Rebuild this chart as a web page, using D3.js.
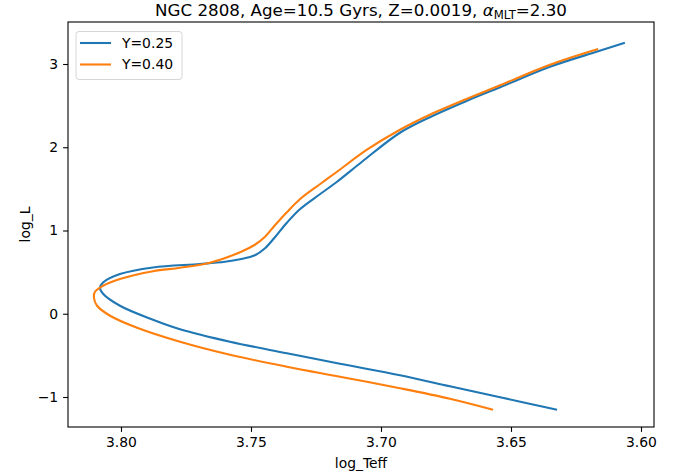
<!DOCTYPE html>
<html>
<head>
<meta charset="utf-8">
<script src="https://cdn.jsdelivr.net/npm/d3@7"></script>
<style>
  html, body { margin: 0; padding: 0; background: #fff; }
  svg { display: block; font-family: "DejaVu Sans", sans-serif; }
</style>
</head>
<body>
<svg id="chart" width="680" height="476"></svg>
<script>
// ---- data ----
const seriesNames = ["Y=0.25", "Y=0.40"];
const seriesColors = ["#1f77b4", "#ff7f0e"];

// Y=0.25 track: log_Teff, log_L (from bottom of MS, through turnoff, up the RGB)
const teff025 = [3.6323, 3.6542, 3.6735, 3.6927, 3.7158, 3.7362, 3.7581, 3.7773, 3.7877, 3.8004,
  3.8069, 3.8081, 3.8069, 3.8004, 3.7877, 3.7696, 3.7600, 3.7542, 3.7485, 3.7446, 3.7408, 3.7362,
  3.7312, 3.7235, 3.7169, 3.7073, 3.6927, 3.6800, 3.6669, 3.6542, 3.6350, 3.6165, 3.6062];
const logL025 = [-1.1532, -1.0030, -0.8709, -0.7387, -0.6006, -0.4745, -0.3363, -0.1862, -0.0721, 0.0961,
  0.2402, 0.3123, 0.3760, 0.4769, 0.5562, 0.5970, 0.6246, 0.6547, 0.7027, 0.7868, 0.9189, 1.0931,
  1.2553, 1.4354, 1.5856, 1.8258, 2.1742, 2.3784, 2.5586, 2.7207, 2.9670, 3.1532, 3.2553];

// Y=0.40 track
const teff040 = [3.6569, 3.6735, 3.6927, 3.7158, 3.7362, 3.7581, 3.7773, 3.7938, 3.8042, 3.8092,
  3.8104, 3.8100, 3.8069, 3.8004, 3.7877, 3.7773, 3.7658, 3.7542, 3.7485, 3.7446, 3.7408, 3.7362,
  3.7312, 3.7235, 3.7169, 3.7054, 3.6927, 3.6800, 3.6669, 3.6542, 3.6350, 3.6165];
const logL040 = [-1.1532, -1.0210, -0.8949, -0.7568, -0.6366, -0.4925, -0.3363, -0.1682, -0.0240, 0.0961,
  0.1922, 0.2643, 0.3363, 0.4168, 0.5105, 0.5526, 0.6126, 0.7387, 0.8288, 0.9249, 1.0631, 1.2192,
  1.3754, 1.5556, 1.7057, 1.9700, 2.2102, 2.4084, 2.5826, 2.7447, 2.9910, 3.1796];

const xTicks = [3.80, 3.75, 3.70, 3.65, 3.60];
const yTicks = [-1, 0, 1, 2, 3];
const xDomain = [3.82038, 3.595];
const yDomain = [-1.3604, 3.5045];

// ---- layout ----
const svg = d3.select("#chart");
const L = 68, R = 654, T = 22, B = 427;

const x = d3.scaleLinear().domain(xDomain).range([L, R]);
const y = d3.scaleLinear().domain(yDomain).range([B, T]);

const series = [
  { name: seriesNames[0], color: seriesColors[0], pts: teff025.map((t, i) => [t, logL025[i]]) },
  { name: seriesNames[1], color: seriesColors[1], pts: teff040.map((t, i) => [t, logL040[i]]) }
];

const line = d3.line().x(d => x(d[0])).y(d => y(d[1])).curve(d3.curveCatmullRom.alpha(0.5));

svg.append("clipPath").attr("id", "clip")
  .append("rect").attr("x", L).attr("y", T).attr("width", R - L).attr("height", B - T);

const plot = svg.append("g").attr("clip-path", "url(#clip)");
series.forEach(s => {
  plot.append("path").datum(s.pts)
    .attr("d", line)
    .attr("fill", "none")
    .attr("stroke", s.color)
    .attr("stroke-width", 2.1)
    .attr("stroke-linejoin", "round")
    .attr("stroke-linecap", "butt");
});

// axes
const xAxis = d3.axisBottom(x).tickValues(xTicks).tickFormat(d3.format(".2f")).tickSizeOuter(0).tickSize(4.9).tickPadding(4.9);
const yAxis = d3.axisLeft(y).tickValues(yTicks).tickFormat(d3.format("d")).tickSizeOuter(0).tickSize(4.9).tickPadding(4.9);

const gx = svg.append("g").attr("transform", `translate(0,${B})`).call(xAxis);
const gy = svg.append("g").attr("transform", `translate(${L},0)`).call(yAxis);
[gx, gy].forEach(g => {
  g.select(".domain").remove();
  g.selectAll(".tick line").attr("stroke", "#000").attr("stroke-width", 1.1);
  g.selectAll(".tick text").attr("fill", "#000").style("font-size", "13.9px").style("font-family", "DejaVu Sans");
});

// frame
svg.append("rect").attr("x", L).attr("y", T).attr("width", R - L).attr("height", B - T)
  .attr("fill", "none").attr("stroke", "#000").attr("stroke-width", 1.1);

// axis labels
svg.append("text").attr("x", (L + R) / 2).attr("y", 468).attr("text-anchor", "middle")
  .style("font-size", "13.9px").text("log_Teff");
svg.append("text").attr("transform", `translate(30,${(T + B) / 2}) rotate(-90)`).attr("text-anchor", "middle")
  .style("font-size", "13.9px").text("log_L");

// title
const title = svg.append("text").attr("x", (L + R) / 2).attr("y", 16).attr("text-anchor", "middle")
  .style("font-size", "16.7px");
title.append("tspan").text("NGC 2808, Age=10.5 Gyrs, Z=0.0019, ");
title.append("tspan").style("font-style", "italic").text("α");
title.append("tspan").attr("dy", 3).style("font-size", "11.7px").text("MLT");
title.append("tspan").attr("dy", -3).text("=2.30");

// legend
const lg = svg.append("g");
lg.append("rect").attr("x", 76).attr("y", 31.5).attr("width", 106).attr("height", 48).attr("rx", 3)
  .attr("fill", "#fff").attr("fill-opacity", 0.8).attr("stroke", "#d6d6d6").attr("stroke-width", 1);
series.forEach((s, i) => {
  const yy = 43 + i * 21.5;
  lg.append("line").attr("x1", 80).attr("x2", 111).attr("y1", yy).attr("y2", yy)
    .attr("stroke", s.color).attr("stroke-width", 2.1);
  lg.append("text").attr("x", 122).attr("y", yy).attr("dy", "0.35em")
    .style("font-size", "13.9px").text(s.name);
});
</script>
</body>
</html>
